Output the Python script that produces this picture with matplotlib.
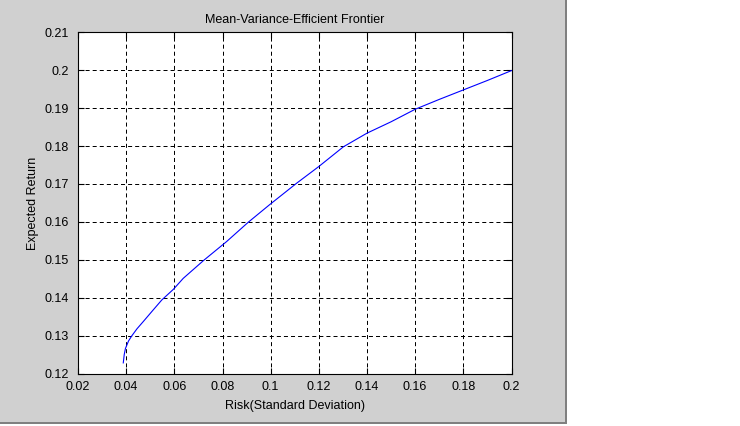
import matplotlib
matplotlib.use('Agg')
import matplotlib.pyplot as plt
from matplotlib.patches import Rectangle

# Frontier
risk = [0.0388, 0.0392, 0.0397, 0.0410, 0.0423, 0.0445, 0.0471, 0.0510, 0.0548, 0.0596,
        0.0637, 0.0723, 0.0817, 0.0907, 0.0997, 0.1108, 0.1200, 0.1302, 0.1400, 0.1500,
        0.1600, 0.1700, 0.1800, 0.1900, 0.2000]
expected_return = [0.1228, 0.1250, 0.1266, 0.1286, 0.1299, 0.1318, 0.1337, 0.1366, 0.1394, 0.1422,
                   0.1451, 0.1499, 0.1548, 0.1599, 0.1646, 0.1702, 0.1746, 0.1798, 0.1834, 0.1864,
                   0.1897, 0.1923, 0.1948, 0.1973, 0.1999]

x_ticks = [0.02, 0.04, 0.06, 0.08, 0.1, 0.12, 0.14, 0.16, 0.18, 0.2]
y_ticks = [0.12, 0.13, 0.14, 0.15, 0.16, 0.17, 0.18, 0.19, 0.2, 0.21]

plt.rcParams['font.family'] = ['Liberation Sans', 'DejaVu Sans']
plt.rcParams['font.size'] = 9
plt.rcParams['lines.scale_dashes'] = False

fig = plt.figure(figsize=(7.4, 4.26), dpi=100, facecolor='white')

# gray window panel (drawn behind the axes)
fig.patches.append(Rectangle((0, 4 / 426), 565 / 740, 422 / 426, transform=fig.transFigure,
                             facecolor='#d0d0d0', edgecolor='none', zorder=-2))
fig.patches.append(Rectangle((565 / 740, 4 / 426), 2 / 740, 422 / 426, transform=fig.transFigure,
                             facecolor='#808080', edgecolor='none', zorder=-2))
fig.patches.append(Rectangle((0, 2 / 426), 567 / 740, 2 / 426, transform=fig.transFigure,
                             facecolor='#808080', edgecolor='none', zorder=-2))

ax = fig.add_axes([78 / 740, 1 - 373.5 / 426, 433.5 / 740, 341.2 / 426])
ax.plot(risk, expected_return, color='#0000ff', lw=0.8, zorder=3)

ax.set_xlim(0.02, 0.2)
ax.set_ylim(0.12, 0.21)
ax.set_xticks(x_ticks)
ax.set_yticks(y_ticks)
ax.set_xticklabels([f'{v:g}' for v in x_ticks])
ax.set_yticklabels([f'{v:g}' for v in y_ticks])
ax.tick_params(direction='in', length=4, width=0.8, color='black', top=True, right=True)
ax.tick_params(axis='x', pad=5.5)
ax.tick_params(axis='y', pad=6.5)
ax.grid(True, color='black', lw=0.72, linestyle=(0, (2.9, 2.2)))
for s in ax.spines.values():
    s.set_linewidth(0.8)
    s.set_color('black')

ax.set_title('Mean-Variance-Efficient Frontier', fontsize=9, pad=6.5)
ax.set_xlabel('Risk(Standard Deviation)', labelpad=5)
ax.set_ylabel('Expected Return', labelpad=4)

fig.savefig('out.png', dpi=100, facecolor='white')
